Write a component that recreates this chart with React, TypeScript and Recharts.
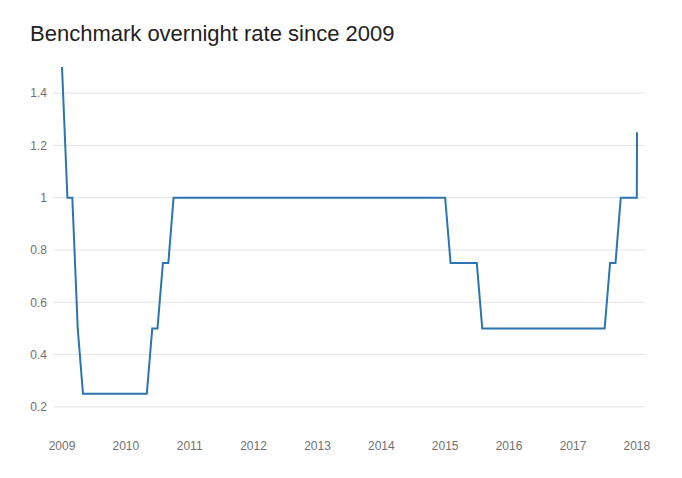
import React from 'react';
import { LineChart, Line, XAxis, YAxis, CartesianGrid } from 'recharts';

// Bank of Canada overnight rate, points where the monthly series changes
const dates = [
  '2009-01-01', '2009-02-01', '2009-03-01', '2009-04-01', '2009-05-01',
  '2010-05-01', '2010-06-01', '2010-07-01', '2010-08-01', '2010-09-01', '2010-10-01',
  '2015-01-01', '2015-02-01', '2015-07-01', '2015-08-01',
  '2017-07-01', '2017-08-01', '2017-09-01', '2017-10-01',
  '2018-01-01', '2018-01-02',
];
const rates = [
  1.5, 1, 1, 0.5, 0.25,
  0.25, 0.5, 0.5, 0.75, 0.75, 1,
  1, 0.75, 0.75, 0.5,
  0.5, 0.75, 0.75, 1,
  1, 1.25,
];
const yearTicks = [2009, 2010, 2011, 2012, 2013, 2014, 2015, 2016, 2017, 2018];
const rateTicks = [0.2, 0.4, 0.6, 0.8, 1, 1.2, 1.4];

const data = dates.map((d, i) => ({ t: Date.parse(d + 'T00:00:00Z'), rate: rates[i] }));
const xTicks = yearTicks.map(y => Date.UTC(y, 0, 1));

const font = 'Arial, "Liberation Sans", sans-serif';

const App: React.FC = () => {
  return (
    <div style={{ position: 'absolute', left: 0, top: 0, width: 682, height: 478, background: '#fff' }}>
      <div
        style={{
          position: 'absolute',
          left: 30,
          top: 21,
          fontFamily: font,
          fontSize: 22,
          color: '#222',
          whiteSpace: 'nowrap',
        }}
      >
        Benchmark overnight rate since 2009
      </div>
      <LineChart width={682} height={478} data={data} margin={{ top: 67, right: 37, bottom: 15, left: 0 }}>
        <CartesianGrid vertical={false} stroke="#e3e3e3" horizontalValues={rateTicks} />
        <XAxis
          dataKey="t"
          type="number"
          scale="linear"
          domain={['dataMin', 'dataMax']}
          ticks={xTicks}
          tickFormatter={(v: number) => String(new Date(v).getUTCFullYear())}
          axisLine={false}
          tickLine={false}
          height={30}
          padding={{ left: 9, right: 8 }}
          tick={{ fill: '#707070', fontSize: 12, fontFamily: font }}
        />
        <YAxis
          type="number"
          domain={[0.1, 1.5]}
          ticks={rateTicks}
          width={53}
          axisLine={false}
          tickLine={false}
          tickMargin={0}
          tick={{ fill: '#707070', fontSize: 12, fontFamily: font }}
        />
        <Line
          type="linear"
          dataKey="rate"
          stroke="#2c75b0"
          strokeWidth={2}
          dot={false}
          isAnimationActive={false}
        />
      </LineChart>
    </div>
  );
};

export default App;
